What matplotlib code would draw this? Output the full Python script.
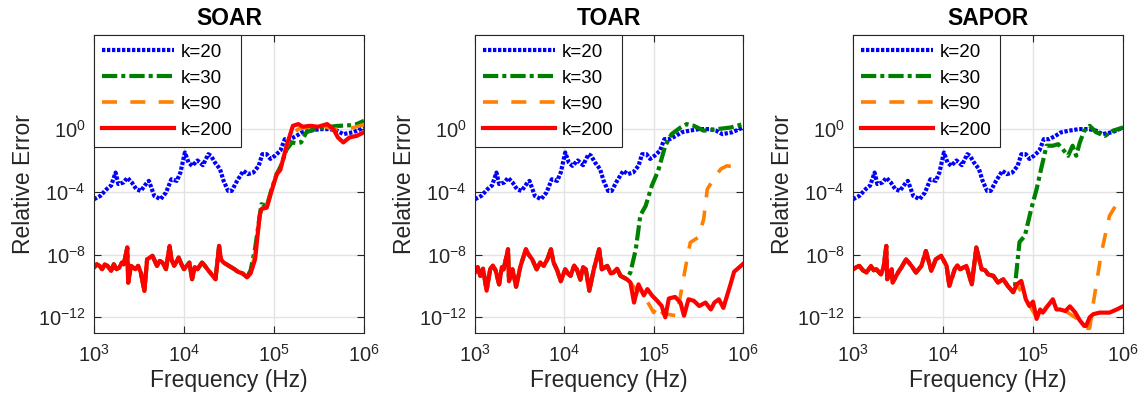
import numpy as np
import matplotlib.pyplot as plt

plt.rcParams['font.family'] = ['Liberation Sans', 'DejaVu Sans']
plt.rcParams['mathtext.fontset'] = 'custom'
plt.rcParams['mathtext.rm'] = 'Liberation Sans'
plt.rcParams['mathtext.it'] = 'Liberation Sans'
plt.rcParams['lines.scale_dashes'] = False

titles = ['SOAR', 'TOAR', 'SAPOR']
labels = ['k=20', 'k=30', 'k=90', 'k=200']

# log10(frequency) and log10(relative error)
# k=20 (same in all panels)
blue_lx = [3.00, 3.07, 3.14, 3.19, 3.24, 3.27, 3.33, 3.37, 3.42, 3.47, 3.52, 3.59, 3.61, 3.67,
           3.74, 3.80, 3.86, 3.92, 3.96, 4.01, 4.05, 4.09, 4.15, 4.21, 4.27, 4.30, 4.34, 4.40,
           4.44, 4.49, 4.53, 4.59, 4.66, 4.71, 4.77, 4.83, 4.87, 4.92, 4.96, 5.01, 5.07, 5.12,
           5.18, 5.25, 5.31, 5.40, 5.51, 5.62, 5.70, 5.77, 5.88, 6.00]
blue_ly = [-4.47, -4.26, -3.83, -3.6, -2.77, -3.5, -3.4, -3.1, -3.4, -3.83, -3.94, -3.4, -3.3, -4.26,
           -4.47, -4.04, -3.2, -3.3, -2.77, -1.49, -2.13, -2.34, -2.0, -2.3, -1.6, -1.7, -2.1, -2.55,
           -3.3, -3.94, -3.94, -3.3, -2.66, -2.87, -2.77, -2.34, -1.6, -1.6, -1.9, -1.7, -1.38, -0.64,
           -0.64, -0.43, -0.21, -0.1, 0.0, 0.0, -0.1, -0.32, -0.2, 0.1]

# SOAR: converged part shared by k=30, 90, 200
soar_low_lx = [3.00, 3.03, 3.06, 3.09, 3.12, 3.15, 3.19, 3.22, 3.25, 3.28, 3.31, 3.33, 3.37, 3.38,
               3.41, 3.46, 3.49, 3.52, 3.56, 3.59, 3.65, 3.70, 3.73, 3.76, 3.80, 3.84, 3.86, 3.89,
               3.94, 3.97, 4.00, 4.06, 4.09, 4.12, 4.15, 4.20, 4.23, 4.26, 4.32, 4.35, 4.39, 4.41,
               4.44, 4.50, 4.56, 4.60, 4.65, 4.70]
soar_low_ly = [-8.83, -8.62, -8.72, -8.93, -8.62, -8.72, -9.04, -8.62, -8.93, -8.83, -8.51, -8.62,
               -7.55, -9.79, -8.72, -8.93, -8.72, -9.15, -10.32, -8.30, -8.08, -8.72, -8.4, -8.51,
               -8.93, -7.45, -8.3, -8.72, -8.19, -8.6, -8.93, -8.51, -9.57, -8.8, -8.93, -8.51,
               -8.7, -8.93, -9.36, -9.57, -7.45, -8.3, -8.51, -8.72, -8.93, -9.1, -9.2, -9.45]
soar_k30_lx = [4.74, 4.79, 4.86, 4.92, 4.97, 5.03, 5.08, 5.14, 5.20, 5.25, 5.30, 5.36, 5.43, 5.55,
               5.70, 5.85, 5.92, 6.00]
soar_k30_ly = [-9.0, -7.6, -4.79, -4.9, -3.9, -2.87, -2.3, -1.3, -0.85, -0.9, -0.85, -0.2, -0.05,
               0.1, 0.2, 0.25, 0.32, 0.53]
soar_k90_lx = [4.74, 4.79, 4.85, 4.92, 4.97, 5.03, 5.08, 5.14, 5.20, 5.27, 5.35, 5.45, 5.55, 5.65,
               5.75, 5.85, 5.95, 6.00]
soar_k90_ly = [-9.1, -8.0, -5.3, -5.0, -4.0, -2.9, -2.5, -1.1, -0.3, 0.0, 0.1, 0.15, 0.2, 0.0,
               0.0, 0.05, 0.2, 0.3]
soar_k200_lx = [4.74, 4.79, 4.84, 4.86, 4.92, 4.97, 5.03, 5.07, 5.14, 5.21, 5.27, 5.32, 5.40, 5.49,
                5.59, 5.66, 5.71, 5.77, 5.84, 5.92, 6.00]
soar_k200_ly = [-9.2, -8.3, -5.53, -5.1, -5.0, -4.0, -2.87, -2.6, -1.06, 0.21, 0.32, 0.15, 0.21,
                0.15, 0.32, 0.0, -0.53, -0.85, -0.53, -0.43, -0.2]

# TOAR
toar_low_lx = [3.00, 3.03, 3.06, 3.09, 3.13, 3.17, 3.20, 3.23, 3.27, 3.30, 3.32, 3.37, 3.38, 3.42,
               3.46, 3.51, 3.57, 3.60, 3.64, 3.69, 3.73, 3.77, 3.81, 3.85, 3.88, 3.92, 3.96, 4.01,
               4.04, 4.07, 4.11, 4.14, 4.18, 4.21, 4.24, 4.28, 4.33, 4.39, 4.42, 4.48, 4.52, 4.55,
               4.59, 4.63, 4.70]
toar_low_ly = [-9.13, -8.8, -9.36, -8.9, -10.3, -8.94, -8.7, -9.0, -9.9, -8.8, -8.94, -7.66, -9.7,
               -8.94, -10.05, -8.72, -7.66, -8.0, -8.3, -8.94, -8.5, -8.72, -8.3, -7.66, -8.51,
               -9.0, -9.7, -8.94, -9.2, -9.36, -8.7, -8.94, -9.6, -8.8, -8.94, -10.3, -8.94, -7.66,
               -8.94, -8.72, -9.2, -9.15, -8.9, -9.36, -9.57]
toar_k30_lx = [4.74, 4.80, 4.85, 4.88, 4.91, 4.98, 5.05, 5.13, 5.20, 5.30, 5.37, 5.45, 5.56, 5.71,
               5.86, 6.00]
toar_k30_ly = [-9.13, -7.66, -5.53, -5.2, -4.9, -3.6, -2.66, -1.06, -0.32, 0.1, 0.32, 0.21, -0.1,
               0.0, 0.1, 0.32]
toar_k90_lx = [4.74, 4.80, 4.90, 5.00, 5.05, 5.10, 5.20, 5.26, 5.30, 5.36, 5.41, 5.50, 5.56, 5.60,
               5.67, 5.75, 5.82, 5.93, 6.00]
toar_k90_ly = [-9.8, -10.2, -10.7, -11.7, -11.2, -11.75, -11.85, -11.9, -10.6, -8.7, -7.23, -6.9,
               -5.74, -3.83, -3.2, -2.55, -2.34, -2.43, -2.45]
toar_k200_lx = [4.74, 4.78, 4.83, 4.89, 4.93, 4.98, 5.04, 5.09, 5.13, 5.17, 5.24, 5.30, 5.34, 5.39,
                5.45, 5.51, 5.58, 5.64, 5.68, 5.73, 5.78, 5.86, 5.90, 6.00]
toar_k200_ly = [-9.78, -11.06, -9.9, -10.6, -10.2, -10.6, -10.95, -11.28, -12.0, -10.8, -10.7,
                -11.06, -11.9, -10.85, -10.95, -11.28, -11.06, -11.5, -11.06, -10.85, -11.4, -9.9,
                -9.1, -8.6]

# SAPOR
sapor_low_lx = [3.00, 3.04, 3.07, 3.11, 3.15, 3.20, 3.23, 3.26, 3.31, 3.34, 3.37, 3.38, 3.43, 3.44,
                3.50, 3.54, 3.59, 3.65, 3.70, 3.76, 3.81, 3.87, 3.92, 3.98, 4.04, 4.07, 4.13, 4.16,
                4.19, 4.26, 4.32, 4.37, 4.43, 4.47, 4.50, 4.56, 4.61, 4.67, 4.72, 4.78]
sapor_low_ly = [-8.94, -8.8, -8.72, -9.0, -9.15, -8.72, -9.0, -8.94, -9.26, -8.8, -7.45, -9.57,
                -8.94, -9.79, -9.15, -8.8, -8.3, -8.72, -9.15, -8.72, -7.77, -9.04, -8.3, -8.08,
                -8.72, -10.0, -8.94, -8.7, -8.94, -8.72, -9.9, -7.55, -8.94, -9.0, -9.26, -9.36,
                -9.79, -9.57, -10.0, -10.4]
sapor_k30_lx = [4.80, 4.85, 4.91, 4.98, 5.04, 5.09, 5.15, 5.22, 5.28, 5.33, 5.39, 5.44, 5.48, 5.52,
                5.57, 5.63, 5.70, 5.80, 5.89, 6.00]
sapor_k30_ly = [-10.0, -7.2, -6.8, -5.1, -3.83, -2.55, -1.06, -1.06, -0.96, -1.28, -1.7, -1.06,
                -1.7, -0.85, -0.1, 0.21, -0.2, -0.43, -0.1, 0.1]
sapor_k90_lx = [4.82, 4.92, 5.04, 5.22, 5.36, 5.52, 5.59, 5.63, 5.67, 5.76, 5.85, 5.94, 6.00]
sapor_k90_ly = [-9.9, -10.85, -12.0, -10.9, -11.6, -12.2, -12.7, -12.7, -11.1, -7.87, -5.53,
                -4.68, -4.4]
sapor_k200_lx = [4.82, 4.87, 4.92, 4.96, 5.00, 5.04, 5.08, 5.11, 5.16, 5.22, 5.26, 5.30, 5.36, 5.41,
                 5.47, 5.52, 5.57, 5.59, 5.63, 5.67, 5.74, 5.85, 5.93, 6.00]
sapor_k200_ly = [-9.9, -9.68, -10.85, -11.28, -11.0, -12.1, -11.5, -11.7, -11.3, -10.85, -11.5,
                 -11.5, -11.6, -11.3, -11.7, -12.2, -12.55, -12.55, -12.0, -11.8, -11.7, -11.7,
                 -11.5, -11.3]

panels = [
    (soar_low_lx, soar_low_ly, soar_k30_lx, soar_k30_ly, soar_k90_lx, soar_k90_ly, soar_k200_lx, soar_k200_ly),
    (toar_low_lx, toar_low_ly, toar_k30_lx, toar_k30_ly, toar_k90_lx, toar_k90_ly, toar_k200_lx, toar_k200_ly),
    (sapor_low_lx, sapor_low_ly, sapor_k30_lx, sapor_k30_ly, sapor_k90_lx, sapor_k90_ly, sapor_k200_lx, sapor_k200_ly),
]

colors = ['#0000ff', '#008000', '#ff8000', '#ff0000']
styles = [(0, (2.4, 1.2)), (0, (11, 2.9, 2.9, 2.9)), (0, (10.8, 9.6)), '-']
widths = [3, 3, 2.6, 3]

lefts = [94, 475, 853]
axw = [270, 268, 270]

fig = plt.figure(figsize=(11.48, 4.12), dpi=100)

for p in range(3):
    ax = fig.add_axes([lefts[p] / 1148, 1 - 333 / 412, axw[p] / 1148, 298 / 412])
    low_lx, low_ly, lx30, ly30, lx90, ly90, lx200, ly200 = panels[p]
    series = [
        (blue_lx, blue_ly),
        (low_lx + lx30, low_ly + ly30),
        (low_lx + lx90, low_ly + ly90),
        (low_lx + lx200, low_ly + ly200),
    ]
    for i in range(4):
        lx, ly = series[i]
        ax.plot(10 ** np.array(lx), 10 ** np.array(ly), color=colors[i], linestyle=styles[i],
                linewidth=widths[i], label=labels[i], dash_capstyle='butt')
    ax.set_xscale('log')
    ax.set_yscale('log')
    ax.set_xlim(1e3, 1e6)
    ax.set_ylim(1e-13, 1e6)
    ax.set_xticks([1e3, 1e4, 1e5, 1e6])
    ax.set_yticks([1e-12, 1e-8, 1e-4, 1e0])
    ax.minorticks_off()
    ax.grid(True, color='#e3e3e3', linewidth=1)
    ax.set_axisbelow(True)
    ax.tick_params(direction='in', top=True, right=True, length=5, width=0.8,
                   labelsize=14.5, colors='#262626')
    ax.tick_params(axis='x', pad=8)
    ax.tick_params(axis='y', pad=6)
    for s in ax.spines.values():
        s.set_color('#262626')
        s.set_linewidth(0.8)
    ax.set_title(titles[p], fontsize=16.5, fontweight='bold', pad=7)
    ax.set_xlabel('Frequency (Hz)', fontsize=16.5, color='#262626', labelpad=2)
    ax.set_ylabel('Relative Error', fontsize=16.5, color='#262626', labelpad=2)
    leg = ax.legend(loc='upper left', fontsize=13.5, handlelength=3.8, handletextpad=0.4,
                    borderaxespad=0, borderpad=0.45, labelspacing=0.48, fancybox=False,
                    framealpha=1, edgecolor='#262626')
    leg.get_frame().set_linewidth(0.8)

plt.savefig('out.png', dpi=100)
